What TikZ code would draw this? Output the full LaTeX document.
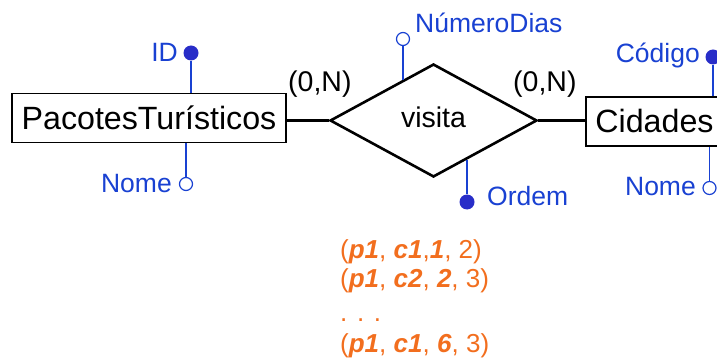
\documentclass[tikz,border=0pt]{standalone}
\usepackage{fontspec}
\setmainfont{Liberation Sans}
\usetikzlibrary{shapes.geometric}
\definecolor{attrblue}{RGB}{25,65,210}
\definecolor{dotblue}{RGB}{40,45,200}
\definecolor{tupleorange}{RGB}{242,110,30}
\tikzset{
  entity/.style={draw=black, line width=1.2pt, inner sep=0pt, font=\fontsize{32.2}{36}\selectfont, text height=22.5pt, text depth=0pt},
  relation/.style={diamond, draw=black, line width=2.6pt, inner sep=0pt, minimum width=207pt, minimum height=113pt, font=\fontsize{28.5}{34}\selectfont, text height=15pt, text depth=0pt},
  relline/.style={draw=black, line width=2.6pt},
  keydot/.style={circle, fill=dotblue, inner sep=0pt, minimum size=15pt},
  attrdot/.style={circle, draw=attrblue, fill=white, line width=1.2pt, inner sep=0pt, minimum size=13pt},
  attrline/.style={draw=attrblue, line width=1.2pt},
  attrtext/.style={text=attrblue, inner sep=0pt, font=\fontsize{26.5}{30}\selectfont},
  cardtext/.style={text=black, inner sep=0pt, font=\fontsize{28.5}{32}\selectfont},
  tupletext/.style={text=tupleorange, inner sep=0pt, font=\fontsize{26}{30}\selectfont},
}
\newcommand{\bi}[1]{\textbf{\textit{#1}}}
\begin{document}
\begin{tikzpicture}[x=1pt,y=-1pt]
\useasboundingbox (0,0) rectangle (717,358);
\clip (0,0) rectangle (717,358);
% entities and relationship
\node[entity, minimum width=274pt, minimum height=49pt] (pac) at (149,118) {PacotesTurísticos};
\node[entity, minimum width=137pt, minimum height=49pt] (cid) at (654.5,121.5) {Cidades};
\node[relation] (vis) at (433.5,120.5) {visita};
\draw[relline] (vis.west) -- (vis.west -| pac.east);
\draw[relline] (vis.east) -- (vis.east -| cid.west);
% cardinalities
\node[cardtext, anchor=base west] (card1) at (288,92) {(0,N)};
\node[cardtext, anchor=base west] (card2) at (513,92) {(0,N)};
% attributes of PacotesTuristicos
\node[keydot] (idd) at (191,53) {};
\draw[attrline] (idd) -- (idd |- pac.north);
\node[attrtext, anchor=base east] (idt) at (178,62) {ID};
\node[attrdot] (pnd) at (186,184) {};
\draw[attrline] (pnd) -- (pnd |- pac.south);
\node[attrtext, anchor=base east] (pnt) at (172,193) {Nome};
% attributes of visita
\node[attrdot] (ndd) at (403,39) {};
\draw[attrline] (ndd) -- (ndd |- vis.127);
\node[attrtext, anchor=base west] (ndt) at (415,33) {NúmeroDias};
\node[keydot] (ord) at (467,202) {};
\draw[attrline] (ord) -- (ord |- vis.311);
\node[attrtext, anchor=base west] (ort) at (487,205) {Ordem};
% attributes of Cidades
\node[keydot] (cod) at (713,57) {};
\draw[attrline] (cod) -- (cod |- cid.north);
\node[attrtext, anchor=base east] (cot) at (700,63) {Código};
\node[attrdot] (cnd) at (709.5,188) {};
\draw[attrline] (cnd) -- (cnd |- cid.south);
\node[attrtext, anchor=base east] (cnt) at (696,196) {Nome};
% tuples
\node[tupletext, anchor=base west] (t1) at (340,258) {(\bi{p1}, \bi{c1},\bi{1}, 2)};
\node[tupletext, anchor=base west] (t2) at (340,287) {(\bi{p1}, \bi{c2}, \bi{2}, 3)};
\node[tupletext, anchor=base west] (t3) at (340,321) {. . .};
\node[tupletext, anchor=base west] (t4) at (340,352) {(\bi{p1}, \bi{c1}, \bi{6}, 3)};
\end{tikzpicture}
\end{document}
